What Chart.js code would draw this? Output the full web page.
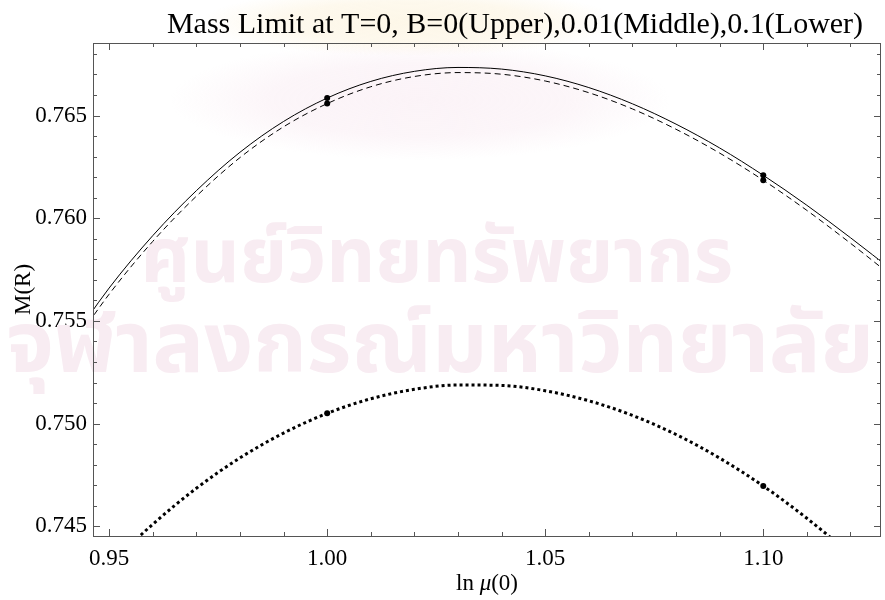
<!DOCTYPE html>
<html>
<head>
<meta charset="utf-8">
<script src="https://cdn.jsdelivr.net/npm/chart.js@4.4.1/dist/chart.umd.min.js"></script>
<style>
    html, body { margin: 0; padding: 0; background: #fff; }
</style>
</head>
<body>
<canvas id="massChart" width="885" height="600"></canvas>
<script>
// ln mu(0) sample points (ends fall just outside the frame)
const lnMu = [0.94, 0.95, 0.96, 0.97, 0.98, 0.99, 1.00, 1.01, 1.02, 1.03, 1.04,
              1.05, 1.06, 1.07, 1.08, 1.09, 1.10, 1.11, 1.12, 1.13];
// B = 0 (upper, solid)
const massB0 = [0.7536, 0.7566, 0.75915, 0.76134, 0.76321, 0.76471, 0.76585, 0.76666, 0.76715, 0.76734, 0.76726,
                0.76693, 0.76636, 0.76557, 0.76458, 0.76342, 0.76209, 0.76063, 0.75905, 0.7574];
// B = 0.01 (middle, dashed)
const massB001 = [0.7533, 0.7563, 0.75887, 0.76107, 0.76295, 0.76445, 0.76558, 0.7664, 0.7669, 0.76709, 0.76701,
                  0.76668, 0.76611, 0.76532, 0.76433, 0.76317, 0.76185, 0.76038, 0.75878, 0.7571];
// B = 0.1 (lower, dotted)
const massB01 = [0.7408, 0.74309, 0.7451, 0.74685, 0.74833, 0.74954, 0.7505, 0.75121, 0.75167, 0.75188, 0.75186,
                 0.7516, 0.75111, 0.7504, 0.74947, 0.74832, 0.74696, 0.74539, 0.74362, 0.7416];

// marked points at ln mu(0) = 1.00 and 1.10
const markX = [1.00, 1.10];
const markB0 = [0.76585, 0.76209];
const markB001 = [0.76558, 0.76185];
const markB01 = [0.7505, 0.74696];

const xTickValues = [0.95, 1.00, 1.05, 1.10];
const xTickLabels = ['0.95', '1.00', '1.05', '1.10'];
const yTickValues = [0.745, 0.750, 0.755, 0.760, 0.765];
const yTickLabels = ['0.745', '0.750', '0.755', '0.760', '0.765'];

const chartTitle = 'Mass Limit at T=0, B=0(Upper),0.01(Middle),0.1(Lower)';
const serif = "'Liberation Serif', 'Times New Roman', serif";

function toPoints(xs, ys) {
    return xs.map((x, i) => ({ x: x, y: ys[i] }));
}

function softBlob(ctx, cx, cy, rx, ry, rgb, alpha) {
    ctx.save();
    ctx.translate(cx, cy);
    ctx.scale(rx / ry, 1);
    const g = ctx.createRadialGradient(0, 0, 0, 0, 0, ry);
    g.addColorStop(0, 'rgba(' + rgb + ',' + alpha + ')');
    g.addColorStop(0.6, 'rgba(' + rgb + ',' + alpha * 0.8 + ')');
    g.addColorStop(1, 'rgba(' + rgb + ',0)');
    ctx.fillStyle = g;
    ctx.beginPath();
    ctx.arc(0, 0, ry, 0, Math.PI * 2);
    ctx.fill();
    ctx.restore();
}

// faint watermark behind the plot
const watermark = {
    id: 'watermark',
    beforeDatasetsDraw(chart) {
        const ctx = chart.ctx;
        softBlob(ctx, 410, 22, 210, 34, '250, 232, 190', 0.35);
        softBlob(ctx, 420, 100, 250, 60, '246, 226, 236', 0.4);

        ctx.save();
        ctx.fillStyle = '#f8ecf2';
        ctx.textAlign = 'center';
        ctx.textBaseline = 'alphabetic';
        ctx.font = "bold 76px 'Noto Sans Thai', 'Noto Sans', sans-serif";
        ctx.fillText('ศูนย์วิทยทรัพยากร', 437, 282);
        ctx.font = "bold 86px 'Noto Sans Thai', 'Noto Sans', sans-serif";
        ctx.fillText('จุฬาลงกรณ์มหาวิทยาลัย', 440, 372);
        ctx.restore();
    }
};

// Mathematica style frame with inward ticks, plus titles
const frame = {
    id: 'frame',
    afterDraw(chart) {
        const ctx = chart.ctx;
        const a = chart.chartArea;
        const xs = chart.scales.x;
        const ys = chart.scales.y;
        ctx.save();
        ctx.strokeStyle = '#555';
        ctx.lineWidth = 1;
        ctx.strokeRect(Math.round(a.left) + 0.5, Math.round(a.top) + 0.5,
                       Math.round(a.right - a.left) - 1, Math.round(a.bottom - a.top));

        ctx.beginPath();
        for (let i = 95; i <= 112; i++) {
            const px = Math.round(xs.getPixelForValue(i / 100)) + 0.5;
            const len = (i % 5 === 0) ? 7 : 4;
            ctx.moveTo(px, a.bottom); ctx.lineTo(px, a.bottom - len);
            ctx.moveTo(px, a.top); ctx.lineTo(px, a.top + len);
        }
        for (let i = 745; i <= 768; i++) {
            const py = Math.round(ys.getPixelForValue(i / 1000)) + 0.5;
            const len = (i % 5 === 0) ? 7 : 4;
            ctx.moveTo(a.left, py); ctx.lineTo(a.left + len, py);
            ctx.moveTo(a.right, py); ctx.lineTo(a.right - len, py);
        }
        ctx.stroke();

        ctx.fillStyle = '#000';
        ctx.textBaseline = 'alphabetic';
        ctx.textAlign = 'center';
        ctx.font = '30px ' + serif;
        ctx.fillText(chartTitle, 515, 33);

        // x axis title: ln mu(0), mu in italics
        const fs = '23px ' + serif;
        const partA = 'ln ', partB = 'μ', partC = '(0)';
        ctx.font = fs;
        const wA = ctx.measureText(partA).width;
        const wC = ctx.measureText(partC).width;
        ctx.font = 'italic ' + fs;
        const wB = ctx.measureText(partB).width;
        const x0 = (a.left + a.right) / 2 - (wA + wB + wC) / 2;
        ctx.textAlign = 'left';
        ctx.font = fs;
        ctx.fillText(partA, x0, 590);
        ctx.font = 'italic ' + fs;
        ctx.fillText(partB, x0 + wA, 590);
        ctx.font = fs;
        ctx.fillText(partC, x0 + wA + wB, 590);

        ctx.translate(30, (a.top + a.bottom) / 2);
        ctx.rotate(-Math.PI / 2);
        ctx.textAlign = 'center';
        ctx.fillText('M(R)', 0, 0);
        ctx.restore();
    }
};

var ctx = document.getElementById('massChart').getContext('2d');
var massChart = new Chart(ctx, {
    type: 'scatter',
    data: {
        datasets: [
            {
                label: 'B=0',
                data: toPoints(lnMu, massB0),
                showLine: true,
                borderColor: '#000',
                borderWidth: 1,
                pointRadius: 0,
                cubicInterpolationMode: 'monotone'
            },
            {
                label: 'B=0.01',
                data: toPoints(lnMu, massB001),
                showLine: true,
                borderColor: '#000',
                borderWidth: 1,
                borderDash: [6, 4],
                pointRadius: 0,
                cubicInterpolationMode: 'monotone'
            },
            {
                label: 'B=0.1',
                data: toPoints(lnMu, massB01),
                showLine: true,
                borderColor: '#000',
                borderWidth: 3,
                borderDash: [3, 3],
                pointRadius: 0,
                cubicInterpolationMode: 'monotone'
            },
            {
                label: 'marks',
                data: toPoints(markX.concat(markX, markX), markB0.concat(markB001, markB01)),
                showLine: false,
                pointRadius: 3,
                pointBackgroundColor: '#000',
                pointBorderWidth: 0
            }
        ]
    },
    options: {
        responsive: false,
        animation: false,
        layout: { padding: { top: 43, right: 1, left: 0, bottom: 0 } },
        plugins: {
            legend: { display: false },
            tooltip: { enabled: false },
            title: { display: false }
        },
        scales: {
            x: {
                type: 'linear',
                min: 0.9463,
                max: 1.127,
                grid: { display: false, drawTicks: false },
                border: { display: false },
                afterBuildTicks: s => { s.ticks = xTickValues.map(v => ({ value: v })); },
                afterFit: s => { s.height = 64; },
                ticks: {
                    padding: 9,
                    color: '#000',
                    font: { family: serif, size: 23 },
                    callback: (v) => xTickLabels[xTickValues.indexOf(v)]
                }
            },
            y: {
                type: 'linear',
                min: 0.744528,
                max: 0.76853,
                grid: { display: false, drawTicks: false },
                border: { display: false },
                afterBuildTicks: s => { s.ticks = yTickValues.map(v => ({ value: v })); },
                afterFit: s => { s.width = 93; },
                ticks: {
                    padding: 6,
                    color: '#000',
                    font: { family: serif, size: 23 },
                    callback: (v) => yTickLabels[yTickValues.indexOf(v)]
                }
            }
        }
    },
    plugins: [watermark, frame]
});
</script>
</body>
</html>
